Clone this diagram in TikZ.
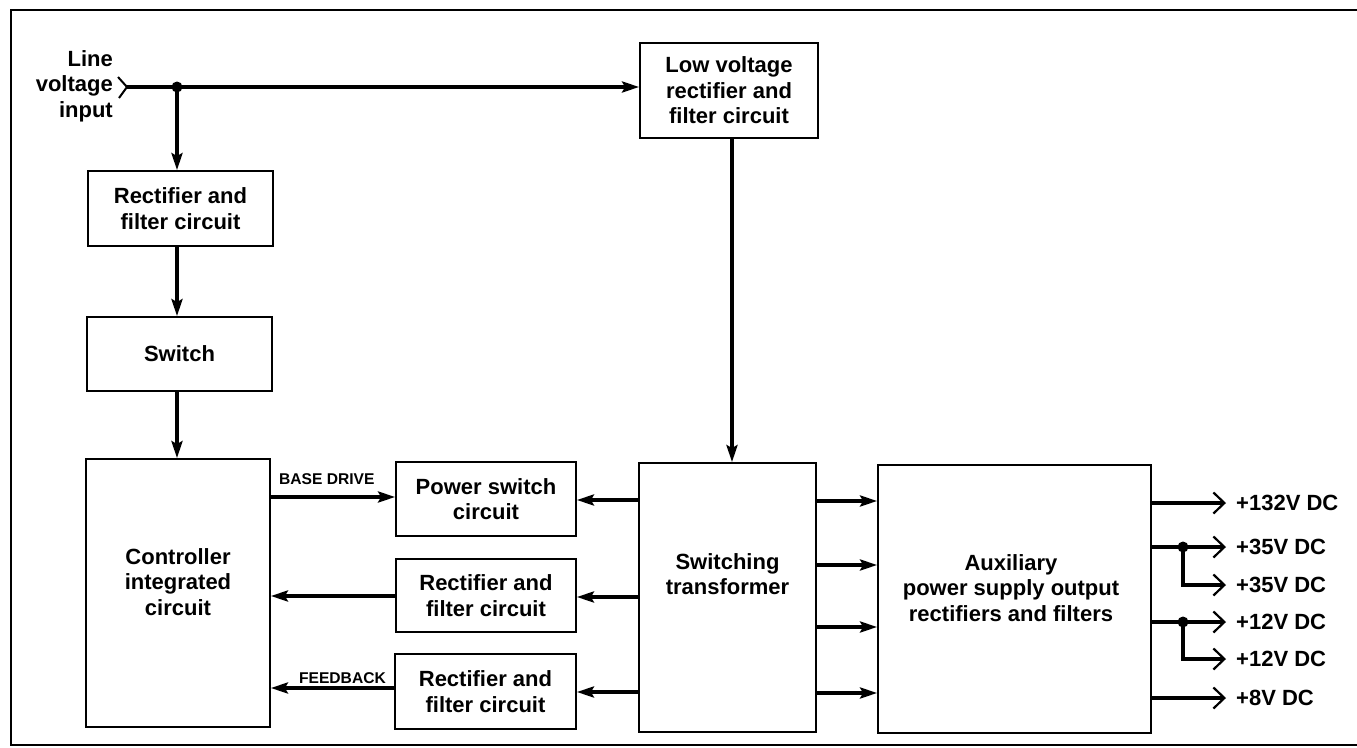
\documentclass[tikz,border=0pt]{standalone}
\usepackage{fontspec}
\setmainfont{Liberation Sans}
\usetikzlibrary{arrows.meta}
\begin{document}
\begin{tikzpicture}[x=1pt,y=-1pt,
  box/.style={draw,line width=1.8pt,inner sep=0pt},
  txt/.style={font=\fontsize{22}{25.5}\selectfont\bfseries,align=center,inner sep=0pt},
  small/.style={font=\fontsize{15.6}{17}\selectfont\bfseries,inner sep=0pt},
  arr/.style={line width=4pt,-{Stealth[length=17pt,width=11pt,inset=3pt]}},
  wire/.style={line width=4pt},
  outarr/.style={line width=3.6pt,-{Straight Barb[length=11pt,width=21pt,line width=2.2pt]}},
  dotn/.style={circle,fill,inner sep=0pt,minimum size=11pt}]
\useasboundingbox (0,0) rectangle (1357,747);
\draw[line width=2pt] (11,10) rectangle (1370,745);

% boxes
\node[box,minimum width=185pt,minimum height=75pt,txt] (rf1) at (180.5,208.5) {Rectifier and\\filter circuit};
\node[box,minimum width=185pt,minimum height=74pt,txt] (sw) at (179.5,354) {Switch};
\node[box,minimum width=184pt,minimum height=268pt] (ctrl) at (178,593) {};
\node[txt] (ctrlT) at (178,582) {Controller\\integrated\\circuit};
\node[box,minimum width=178pt,minimum height=95pt,txt] (lv) at (729,90.5) {Low voltage\\rectifier and\\filter circuit};
\node[box,minimum width=180pt,minimum height=74pt,txt] (ps) at (486,499) {Power switch\\circuit};
\node[box,minimum width=180pt,minimum height=73pt,txt] (rf2) at (486,595.5) {Rectifier and\\filter circuit};
\node[box,minimum width=181pt,minimum height=75pt,txt] (rf3) at (485.5,691.5) {Rectifier and\\filter circuit};
\node[box,minimum width=177pt,minimum height=269pt] (st) at (727.5,597.5) {};
\node[txt] (stT) at (727.5,574) {Switching\\transformer};
\node[box,minimum width=273pt,minimum height=268pt] (aux) at (1014.5,599) {};
\node[txt] (auxT) at (1011,588) {Auxiliary\\power supply output\\rectifiers and filters};

% input
\node[txt,align=right,anchor=east] (inL) at (113,86) {Line\\voltage\\input};
\coordinate (inA) at (118,77);
\coordinate (inT) at (127,87);
\coordinate (inB) at (119,98);
\draw[line width=2pt] (inA) -- (inT) -- (inB);
\node[dotn] (dot) at (177,87) {};
\draw[arr] (inT) -- (inT -| lv.west);
\draw[arr] (dot.center) -- (dot |- rf1.north);
\draw[arr] (rf1.south -| dot) -- (sw.north -| dot);
\draw[arr] (sw.south -| dot) -- (ctrl.north -| dot);
\coordinate (lvx) at (732,0);
\draw[arr] (lv.south -| lvx) -- (st.north -| lvx);

% controller side
\coordinate (yb) at (0,497);
\coordinate (ym) at (0,596);
\coordinate (yf) at (0,688);
\draw[arr] (ctrl.east |- yb) -- (ps.west |- yb);
\draw[arr] (rf2.west |- ym) -- (ctrl.east |- ym);
\draw[arr] (rf3.west |- yf) -- (ctrl.east |- yf);
\node[small,anchor=base west] (bd) at (279,484) {BASE DRIVE};
\node[small,anchor=base east] (fb) at (386,683) {FEEDBACK};

% transformer to boxes
\coordinate (t1) at (0,500);
\coordinate (t2) at (0,597);
\coordinate (t3) at (0,692);
\draw[arr] (st.west |- t1) -- (ps.east |- t1);
\draw[arr] (st.west |- t2) -- (rf2.east |- t2);
\draw[arr] (st.west |- t3) -- (rf3.east |- t3);

% transformer to aux
\foreach \yy in {501,565,627,693}{
  \draw[arr] (st.east |- 0,\yy) -- (aux.west |- 0,\yy);
}

% outputs
\coordinate (o1) at (1226,503);
\coordinate (o2) at (1226,547);
\coordinate (o3) at (1226,585);
\coordinate (o4) at (1226,622);
\coordinate (o5) at (1226,659);
\coordinate (o6) at (1226,698);
\node[dotn] (d35) at (1183,547) {};
\node[dotn] (d12) at (1183,622) {};
\draw[outarr] (aux.east |- o1) -- (o1);
\draw[outarr] (aux.east |- o2) -- (o2);
\draw[outarr] (d35.center) |- (o3);
\draw[outarr] (aux.east |- o4) -- (o4);
\draw[outarr] (d12.center) |- (o5);
\draw[outarr] (aux.east |- o6) -- (o6);
\node[txt,anchor=west] (l1) at (1236,503) {+132V DC};
\node[txt,anchor=west] (l2) at (1236,547) {+35V DC};
\node[txt,anchor=west] (l3) at (1236,585) {+35V DC};
\node[txt,anchor=west] (l4) at (1236,622) {+12V DC};
\node[txt,anchor=west] (l5) at (1236,659) {+12V DC};
\node[txt,anchor=west] (l6) at (1236,698) {+8V DC};
\end{tikzpicture}
\end{document}
